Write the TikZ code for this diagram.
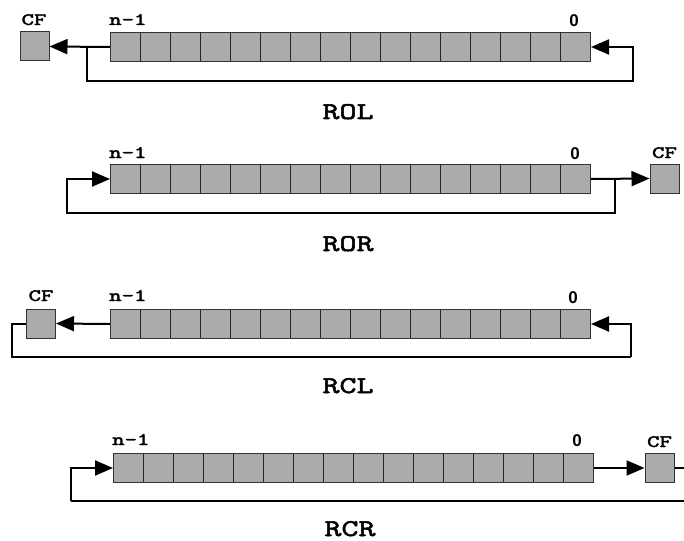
\documentclass[tikz,border=0pt]{standalone}
\usepackage{fontspec}
\usetikzlibrary{arrows.meta,calc}
\newfontfamily\regsans{Liberation Sans}
\newfontfamily\regmono{lmmono10-regular.otf}[FakeBold=2.2, FakeStretch=1.35]
\definecolor{cellgray}{HTML}{ABABAB}
\definecolor{edgegray}{HTML}{333333}
\begin{document}
\begin{tikzpicture}[x=1pt,y=-1pt,
  reg/.style={draw=edgegray, fill=cellgray, line width=1pt, minimum width=480pt,
    minimum height=29pt, inner sep=0pt, anchor=north west},
  cfbox/.style={draw=edgegray, fill=cellgray, line width=1pt, minimum width=29pt,
    minimum height=29pt, inner sep=0pt},
  divider/.style={draw=black!85, line width=0.8pt},
  wire/.style={draw=black, line width=2pt},
  arr/.style={wire, -{Triangle[length=18pt 0,width=15pt 0]}},
  small/.style={font=\regmono\fontsize{17.5}{17.5}\selectfont, inner sep=0pt},
  digit/.style={font=\regsans\bfseries\fontsize{17}{17}\selectfont, inner sep=0pt},
  opname/.style={font=\regmono\fontsize{24}{24}\selectfont, inner sep=0pt, anchor=base}]
\useasboundingbox (0,0) rectangle (684,540);
\clip (0,0) rectangle (684,540);

% ---------- ROL ----------
\node[reg] (r1) at (110,32) {};
\foreach \i in {1,...,15} \draw[divider] (r1.north west) ++(30*\i,0) -- ++(0,29);
\node[cfbox] (cf1) at (34.5,46.5) {};
\node[small, anchor=base] (cf1l) at (34,25) {CF};
\node[small, anchor=base west] (n1) at (109,25) {n-1};
\node[digit, anchor=base] (z1) at (574,27) {0};
\draw[arr] (r1.west) -- (cf1.east);
\coordinate (j1) at (87,46.5);
\coordinate (k1) at (633,81);
\draw[arr] (j1) |- (k1) |- (r1.east);
\node[opname] (op1) at (348,119) {ROL};

% ---------- ROR ----------
\node[reg] (r2) at (110,164) {};
\foreach \i in {1,...,15} \draw[divider] (r2.north west) ++(30*\i,0) -- ++(0,29);
\node[cfbox] (cf2) at (664.5,178.5) {};
\node[small, anchor=base] (cf2l) at (664.5,158) {CF};
\node[small, anchor=base west] (n2) at (109,158) {n-1};
\node[digit, anchor=base] (z2) at (575,159) {0};
\draw[arr] (r2.east) -- (cf2.west);
\coordinate (j2) at (615,178.5);
\coordinate (k2) at (67,213);
\draw[arr] (j2) |- (k2) |- (r2.west);
\node[opname] (op2) at (348,251) {ROR};

% ---------- RCL ----------
\node[reg] (r3) at (110,309) {};
\foreach \i in {1,...,15} \draw[divider] (r3.north west) ++(30*\i,0) -- ++(0,29);
\node[cfbox] (cf3) at (41,323.5) {};
\node[small, anchor=base] (cf3l) at (41,301) {CF};
\node[small, anchor=base west] (n3) at (109,301) {n-1};
\node[digit, anchor=base] (z3) at (573,303) {0};
\draw[arr] (r3.west) -- (cf3.east);
\coordinate (k3) at (631,357);
\draw[wire] (cf3.west) -- (12,323.5) |- (k3);
\draw[arr] (k3) |- (r3.east);
\node[opname] (op3) at (348,393) {RCL};

% ---------- RCR ----------
\node[reg] (r4) at (113,453) {};
\foreach \i in {1,...,15} \draw[divider] (r4.north west) ++(30*\i,0) -- ++(0,29);
\node[cfbox] (cf4) at (659.5,468) {};
\node[small, anchor=base] (cf4l) at (659.5,447) {CF};
\node[small, anchor=base west] (n4) at (112,445) {n-1};
\node[digit, anchor=base] (z4) at (577,446) {0};
\draw[arr] (r4.east) -- (cf4.west);
\coordinate (k4) at (71,501);
\draw[wire] (cf4.east) -- (700,468) |- (k4);
\draw[arr] (k4) |- (r4.west);
\node[opname] (op4) at (350,536) {RCR};
\end{tikzpicture}
\end{document}
